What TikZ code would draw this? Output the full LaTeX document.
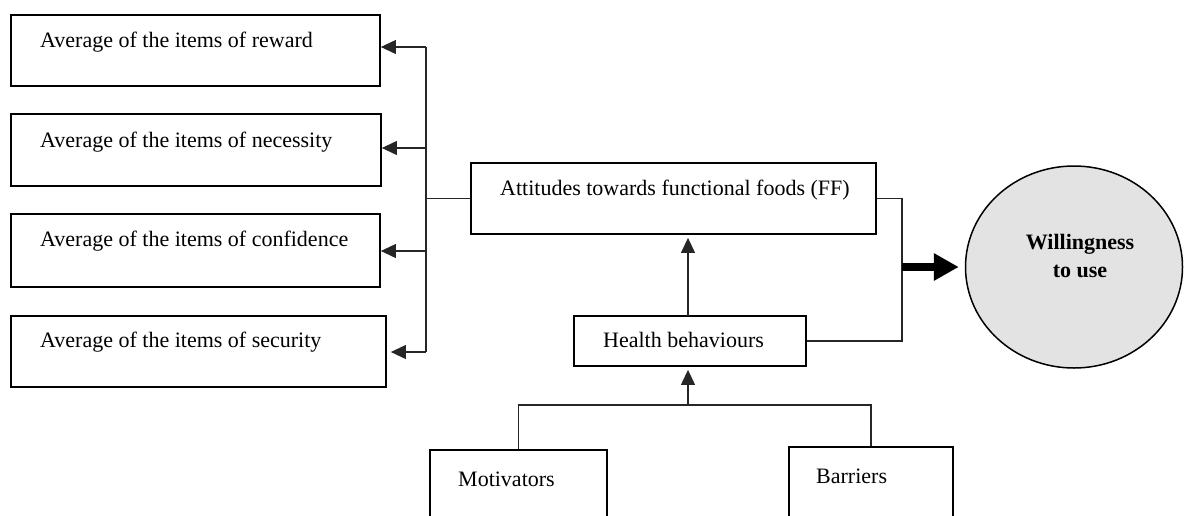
\documentclass[tikz,border=0pt]{standalone}
\usepackage{fontspec}
\setmainfont{Liberation Serif}
\usetikzlibrary{arrows.meta,shapes.geometric}

\begin{document}
\begin{tikzpicture}[x=1pt,y=-1pt,
  box/.style={draw,line width=1.8pt,rectangle,inner sep=0pt},
  txt/.style={anchor=base west,inner sep=0pt,font=\fontsize{22}{26}\selectfont},
  link/.style={line width=1.1pt,draw=black!85},
  arr/.style={link,-{Triangle[length=15pt,width=14pt]}},
  bigarr/.style={line width=8pt,-{Triangle[length=25pt,width=26pt]}}]
\useasboundingbox (0,0) rectangle (1190,515);
\clip (0,0) rectangle (1190,515);

% item boxes on the left
\node[box,minimum width=369pt,minimum height=71pt] (reward) at (195.5,50.5) {};
\node[box,minimum width=370pt,minimum height=72pt] (necessity) at (196,150) {};
\node[box,minimum width=369pt,minimum height=73pt] (confidence) at (195.5,250.5) {};
\node[box,minimum width=375pt,minimum height=71pt] (security) at (198.5,351.5) {};
\node[txt] (trew) at (40,47) {Average of the items of reward};
\node[txt] (tnec) at (40,147) {Average of the items of necessity};
\node[txt] (tcon) at (40,246) {Average of the items of confidence};
\node[txt] (tsec) at (40,347) {Average of the items of security};

% central boxes
\node[box,minimum width=405pt,minimum height=71pt] (attitude) at (673.5,198.5) {};
\node[txt] (tatt) at (500,195) {Attitudes towards functional foods (FF)};
\node[box,minimum width=232pt,minimum height=50pt] (health) at (690,341) {};
\node[txt] (thea) at (603,347) {Health behaviours};

% bottom boxes (open towards the lower edge)
\node[box,minimum width=177pt,minimum height=100pt] (motiv) at (518.5,500) {};
\node[txt] (tmot) at (458,486) {Motivators};
\node[box,minimum width=164pt,minimum height=100pt] (barr) at (871,497) {};
\node[txt] (tbar) at (816,483) {Barriers};

% outcome
\node[ellipse,draw,line width=1.5pt,fill=gray!22,minimum width=217pt,minimum height=202pt,inner sep=0pt] (will) at (1074,267) {};
\node[font=\fontsize{22}{28}\selectfont\bfseries,align=center,inner sep=0pt,anchor=base] (twill) at (1080,277) {Willingness\\to use};

% spine feeding the item boxes
\coordinate (s1) at (426,47);
\coordinate (s2) at (426,148);
\coordinate (s3) at (426,251);
\coordinate (s4) at (426,352);
\draw[link] (s1) -- (s4);
\draw[arr] (s1) -- (s1 -| reward.east);
\draw[arr] (s2) -- (s2 -| necessity.east);
\draw[arr] (s3) -- (s3 -| confidence.east);
\draw[arr,shorten >=4pt] (s4) -- (s4 -| security.east);
\draw[link] (attitude.west) -- (attitude.west -| s1);

% join towards willingness
\coordinate (j) at (902,267);
\draw[link] (attitude.east) -- (j |- attitude.east) -- (j |- health.east) -- (health.east);
\draw[bigarr,shorten >=6pt] (j) -- (will.west);

% health behaviours to attitudes
\coordinate (h) at (688,316);
\draw[arr,shorten >=3pt] (h) -- (h |- attitude.south);

% motivators and barriers to health behaviours
\coordinate (b) at (688,405);
\draw[link] (motiv.north) -- (motiv.north |- b) -- (barr.north |- b) -- (barr.north);
\draw[arr,shorten >=3pt] (b) -- (b |- health.south);
\end{tikzpicture}
\end{document}
